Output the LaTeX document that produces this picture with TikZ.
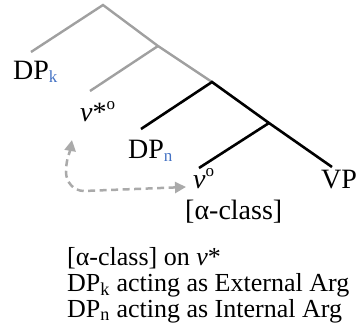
\documentclass[tikz,border=0pt]{standalone}
\usepackage{fontspec}
\setmainfont{Liberation Serif}
\usetikzlibrary{arrows.meta}

\definecolor{treegray}{RGB}{160,160,160}
\definecolor{idxblue}{RGB}{68,114,196}
\newcommand{\idx}[1]{\raisebox{-3pt}{\fontsize{17}{17}\selectfont\color{idxblue}#1}}
\newcommand{\headmark}{\raisebox{12pt}{\fontsize{17}{17}\selectfont o}}

\begin{document}
\begin{tikzpicture}[
    x=1pt, y=-1pt,
    oldbranch/.style={draw=treegray, line width=2.4pt},
    newbranch/.style={draw=black, line width=2.6pt},
    leaf/.style={anchor=base west, inner sep=0pt, font=\fontsize{28}{28}\selectfont},
    note/.style={anchor=base west, inner sep=0pt, font=\fontsize{26}{26}\selectfont},
    move/.style={draw=treegray!90, line width=2.5pt, dash pattern=on 7pt off 4.5pt,
                 {Triangle[length=11pt,width=11pt]}-{Triangle[length=11pt,width=11pt]}}
  ]
    \useasboundingbox (0,0) rectangle (357,335);
    % branch points
    \coordinate (root) at (103,5);
    \coordinate (nA) at (158,46);
    \coordinate (nB) at (212,82);
    \coordinate (nC) at (269,123);
    % branch ends
    \coordinate (dpkTop) at (31,52);
    \coordinate (vsTop) at (90,91);
    \coordinate (dpnTop) at (141,129);
    \coordinate (vTop) at (199,168);
    \coordinate (vpTop) at (332,167);
    % labels
    \node[leaf] (dpk) at (13,79) {DP\idx{k}};
    \node[leaf] (vstar) at (80,121) {\textit{v}*\headmark};
    \node[leaf] (dpn) at (128,158) {DP\idx{n}};
    \node[leaf] (v) at (193,188) {\textit{v}\headmark};
    \node[leaf] (vp) at (321,188) {VP};
    \node[leaf] (feat) at (185,219) {[α-class]};
    % tree
    \draw[oldbranch] (dpkTop) -- (root) -- (nA) -- (nB);
    \draw[oldbranch] (nA) -- (vsTop);
    \draw[newbranch] (dpnTop) -- (nB) -- (nC) -- (vpTop);
    \draw[newbranch] (nC) -- (vTop);
    % movement
    \coordinate (vTail) at (186,187);
    \coordinate (vsTip) at (72,140);
    \draw[move] (vTail) -- (84,191) to[out=180,in=-90] (66,172)
      to[out=90,in=-100] (vsTip);
    % notes
    \node[note] (note1) at (67,265) {[α-class] on \textit{v}*};
    \node[note] (note2) at (67,291) {DP\textsubscript{k} acting as External Arg};
    \node[note] (note3) at (67,317) {DP\textsubscript{n} acting as Internal Arg};
\end{tikzpicture}
\end{document}
